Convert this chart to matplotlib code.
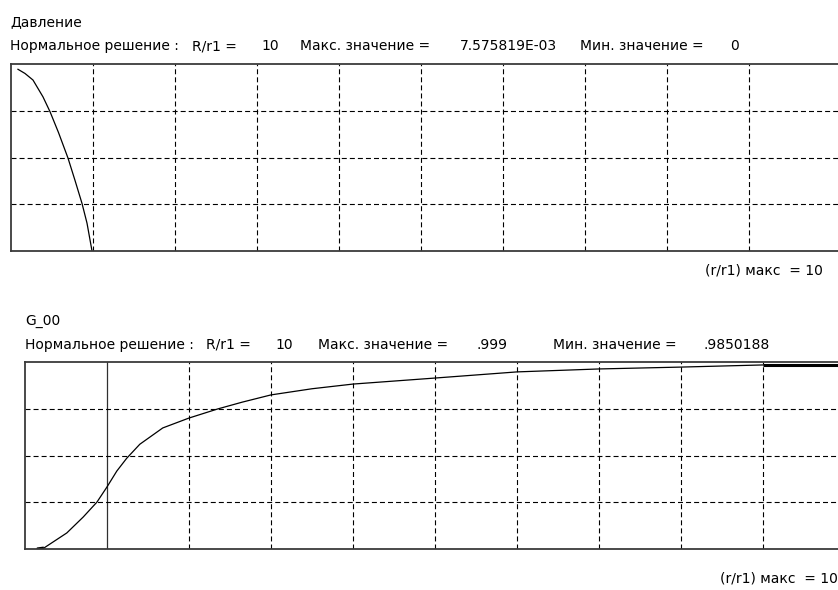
import numpy as np
import matplotlib.pyplot as plt

plt.rcParams['font.family'] = ['Liberation Sans Narrow', 'DejaVu Sans']
plt.rcParams['lines.scale_dashes'] = False

W, H = 838, 590
fig = plt.figure(figsize=(W / 100, H / 100), dpi=100)

# r/r1 coordinates and values
r_pressure = [0.085, 0.17, 0.268, 0.39, 0.476, 0.58, 0.695, 0.78, 0.866,
              0.927, 0.988]
pressure = [7.45e-3, 7.28e-3, 7.01e-3, 6.32e-3, 5.71e-3, 4.85e-3, 3.81e-3,
            2.90e-3, 1.95e-3, 1.14e-3, 0.0]
p_max = 7.575819e-3
p_min = 0.0

r_g00 = [0.146, 0.23, 0.51, 0.71, 0.878, 1.0, 1.12, 1.24, 1.40, 1.68, 2.0,
         2.35, 2.65, 3.0, 3.5, 4.0, 5.0, 6.0, 7.0, 8.0, 9.0, 10.4]
g00 = [0.98502, 0.98509, 0.98622, 0.98741, 0.98853, 0.98966, 0.99085,
       0.99180, 0.99285, 0.99407, 0.99481, 0.99549, 0.99600, 0.99654,
       0.99700, 0.99735, 0.99780, 0.99826, 0.99848, 0.99862, 0.99878,
       0.99878]
g_max = 0.999
g_min = 0.9850188

grid_x = [1, 2, 3, 4, 5, 6, 7, 8, 9]
x_max = 10.5
px_per_unit = 82
box_h = 187


def make_axes(left_px, bottom_px):
    ax = fig.add_axes([left_px / W, (H - bottom_px) / H,
                       x_max * px_per_unit / W, box_h / H])
    ax.set_xlim(0, x_max)
    ax.set_xticks([])
    ax.set_yticks([])
    for s in ax.spines.values():
        s.set_color('#3a3a3a')
        s.set_linewidth(1.3)
    return ax


def draw_grid(ax, lo, hi, solid_first=False):
    for i, gx in enumerate(grid_x):
        if solid_first and i == 0:
            ax.axvline(gx, color='#303030', lw=0.9)
        else:
            ax.axvline(gx, color='black', lw=0.8, linestyle=(0, (3.6, 2.2)))
    for k in range(1, 4):
        ax.axhline(lo + (hi - lo) * k / 4, color='black', lw=0.8,
                   linestyle=(0, (3.6, 2.2)))


def txt(x, y, s, ha='left'):
    fig.text(x / W, 1 - y / H, s, fontsize=10, va='center', ha=ha,
             color='black')


# top panel: pressure
ax1 = make_axes(11, 251)
ax1.set_ylim(p_min, p_max * 1.012)
draw_grid(ax1, p_min, p_max * 1.012)
ax1.plot(r_pressure, pressure, color='black', lw=0.9)

txt(10, 22, 'Давление')
txt(10, 46, 'Нормальное решение :')
txt(192, 46, 'R/r1 =')
txt(261, 46, '10')
txt(300, 46, 'Макс. значение =')
txt(460, 46, '7.575819E-03')
txt(580, 46, 'Мин. значение =')
txt(730, 46, '0')
txt(823, 270, '(r/r1) макс  = 10', ha='right')

# bottom panel: G_00
ax2 = make_axes(25, 549)
ax2.set_ylim(g_min, g_max)
draw_grid(ax2, g_min, g_max, solid_first=True)
ax2.plot(r_g00, g00, color='black', lw=0.9)
ax2.plot(r_g00[:2], g00[:2], color='black', lw=2.2, solid_capstyle='butt')
ax2.plot(r_g00[-2:], g00[-2:], color='black', lw=2.2, solid_capstyle='butt')

txt(25, 321, 'G_00')
txt(25, 345, 'Нормальное решение :')
txt(206, 345, 'R/r1 =')
txt(275, 345, '10')
txt(318, 345, 'Макс. значение =')
txt(476, 345, '.999')
txt(553, 345, 'Мин. значение =')
txt(703, 345, '.9850188')
txt(838, 578, '(r/r1) макс  = 10', ha='right')

fig.savefig('out.png', dpi=100)
